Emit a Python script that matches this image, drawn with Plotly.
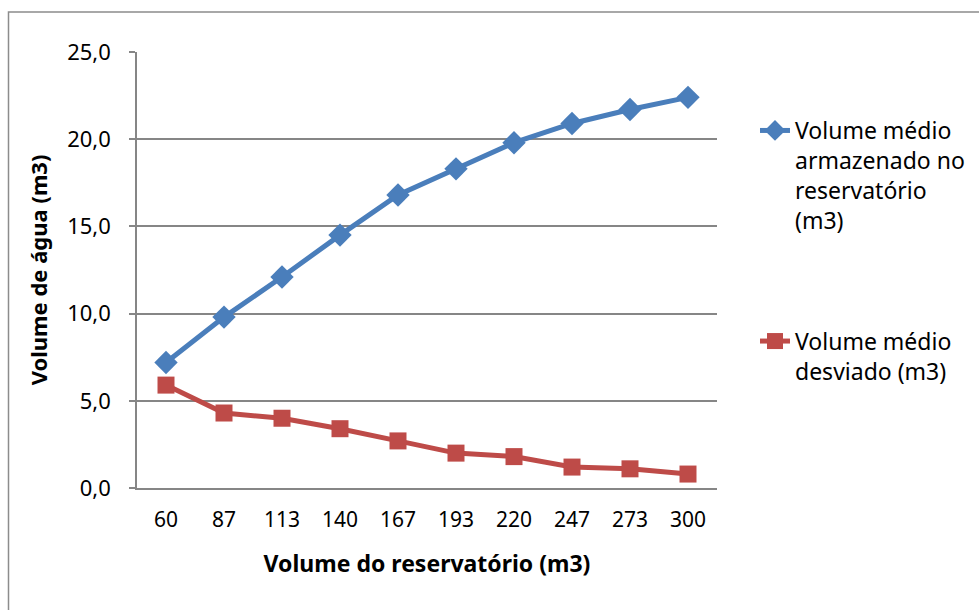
import plotly.graph_objects as go

categorias = ["60", "87", "113", "140", "167", "193", "220", "247", "273", "300"]
armazenado = [7.2, 9.8, 12.1, 14.5, 16.8, 18.3, 19.8, 20.9, 21.7, 22.4]
desviado = [5.9, 4.3, 4.0, 3.4, 2.7, 2.0, 1.8, 1.2, 1.1, 0.8]
nome_armazenado = "Volume médio<br>armazenado no<br>reservatório<br>(m3)"
nome_desviado = "Volume médio<br>desviado (m3)"
y_ticks = [0, 5, 10, 15, 20, 25]
y_tick_labels = ["0,0", "5,0", "10,0", "15,0", "20,0", "25,0"]

FONT = "Noto Sans"
GRAY = "#868686"

fig = go.Figure()
fig.add_trace(go.Scatter(
    x=categorias, y=armazenado, name=nome_armazenado, mode="lines+markers",
    line=dict(color="#4A7EBB", width=5),
    marker=dict(symbol="diamond", size=18, color="#4A7EBB"),
    legendgroup="a",
))
fig.add_trace(go.Scatter(
    x=categorias, y=desviado, name=nome_desviado, mode="lines+markers",
    line=dict(color="#BE4B48", width=5),
    marker=dict(symbol="square", size=17, color="#BE4B48"),
    legendgroup="b",
))

W, H = 979, 610
L, R, T, B = 137, 717, 52, 488

def px(xp):
    return (xp - L) / (R - L)

def py(yp):
    return (B - yp) / (B - T)

fig.add_shape(type="rect", xref="paper", yref="paper",
              x0=px(8.5), x1=px(990), y0=py(12), y1=py(620),
              line=dict(color="#8C8C8C", width=1.5), layer="below")

fig.update_layout(
    width=W, height=H,
    margin=dict(l=L, r=W - R, t=T, b=H - B, autoexpand=False),
    paper_bgcolor="white", plot_bgcolor="white",
    font=dict(family=FONT, size=22, color="black"),
    showlegend=True,
    legend=dict(
        x=px(755), y=py(109), xanchor="left", yanchor="top",
        valign="top", font=dict(size=23, family=FONT),
        tracegroupgap=88, bgcolor="rgba(0,0,0,0)",
    ),
    xaxis=dict(
        type="category", range=[-0.5, 9.5], automargin=False,
        showline=True, linecolor=GRAY, linewidth=1.5,
        showgrid=False, ticks="", ticklabelstandoff=12,
        tickfont=dict(size=21),
        title=dict(text="<b>Volume do reservatório (m3)</b>", font=dict(size=23), standoff=24),
    ),
    yaxis=dict(
        range=[0, 25], tickvals=y_ticks, ticktext=y_tick_labels, automargin=False,
        showline=True, linecolor=GRAY, linewidth=1.5,
        showgrid=True, gridcolor=GRAY, gridwidth=1.5,
        ticks="outside", ticklen=6, tickcolor=GRAY, tickwidth=1.5,
        ticklabelstandoff=14, tickfont=dict(size=22),
        zeroline=False,
        title=dict(text="<b>Volume de água (m3)</b>", font=dict(size=22), standoff=13),
    ),
)

fig.write_html("out.html")
